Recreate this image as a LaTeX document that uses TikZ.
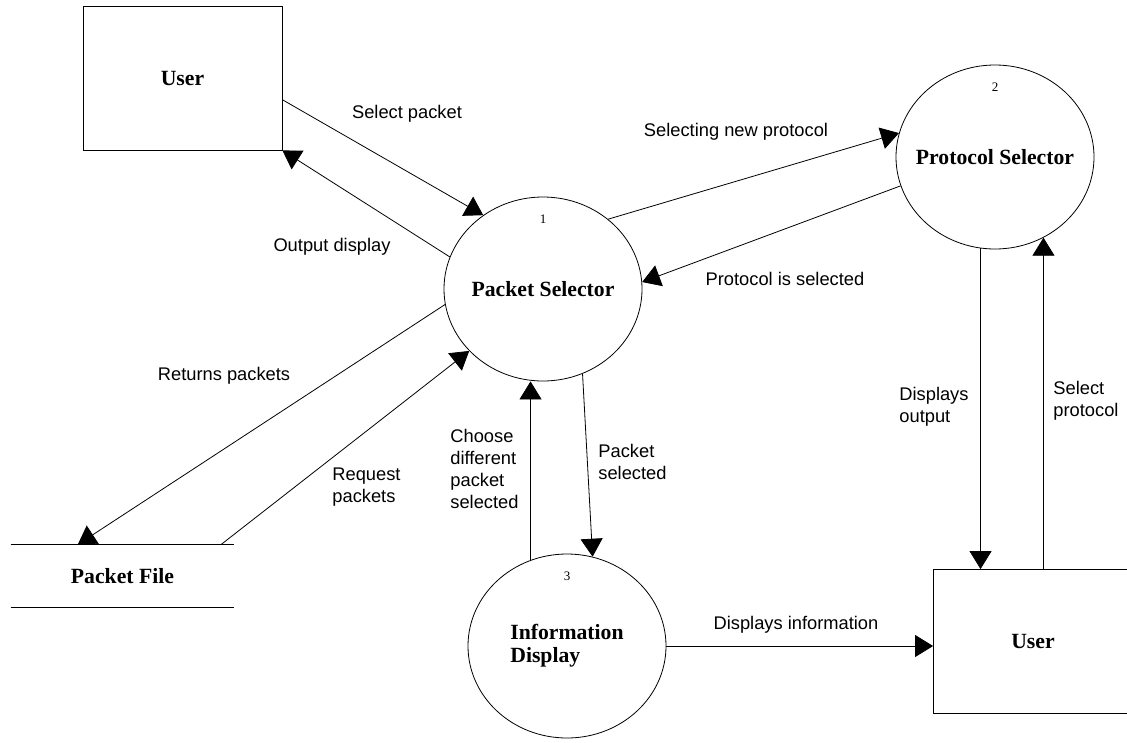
\documentclass[tikz,border=0pt]{standalone}
\usepackage{fontspec}
\setmainfont{Liberation Serif}
\newfontfamily\lblfont{Liberation Sans}
\usetikzlibrary{shapes.geometric,arrows.meta,calc}

\tikzset{
  proc/.style={draw, ellipse, minimum width=198pt, minimum height=184pt, inner sep=0pt,
    font=\bfseries\fontsize{21.7}{23}\selectfont},
  ent/.style={draw, rectangle, minimum width=199pt, minimum height=144pt, inner sep=0pt,
    font=\bfseries\fontsize{21.7}{23}\selectfont},
  store/.style={rectangle, minimum width=223pt, minimum height=62pt, inner sep=0pt,
    font=\bfseries\fontsize{21.7}{23}\selectfont},
  num/.style={inner sep=0pt, font=\fontsize{13}{15}\selectfont},
  lbl/.style={inner sep=0pt, align=left, font=\lblfont\fontsize{18.3}{22}\selectfont},
  flow/.style={-{Triangle[length=18pt,width=22pt]}},
}

\begin{document}
\begin{tikzpicture}[x=1pt, y=-1pt, line width=0.8pt]
\useasboundingbox (0,0) rectangle (1127,742);

% entities and processes
\node[ent] (user) at (182.5, 78) {User};
\node[ent] (user2) at (1033, 641.5) {User};
\node[proc] (pktsel) at (543, 289) {\makebox[0pt]{Packet Selector}};
\node[proc] (protsel) at (995, 157) {\makebox[0pt]{Protocol Selector}};
\node[proc] (infodisp) at (567, 646) {\makebox[0pt]{\begin{tabular}{@{}l@{}}Information\\Display\end{tabular}}};
\node[store] (pktfile) at (122.5, 576) {Packet File};
\draw (pktfile.north west) -- (pktfile.north east);
\draw (pktfile.south west) -- (pktfile.south east);

% process numbers
\node[num] (n1) at ([yshift=70pt]pktsel.center) {1};
\node[num] (n2) at ([yshift=70pt]protsel.center) {2};
\node[num] (n3) at ([yshift=70pt]infodisp.center) {3};

% data flows
\draw[flow] ($(user.south east)!0.35!(user.north east)$) -- (pktsel.129);
\draw[flow] (pktsel.161) -- (user.south east);
\draw[flow] (pktsel.47) -- (protsel.166);
\draw[flow] (protsel.197) -- (pktsel.4);
\draw[flow] (pktsel.189) -- ($(pktfile.north west)!0.3!(pktfile.north east)$);
\draw[flow] ($(pktfile.north west)!0.94!(pktfile.north east)$) -- (pktsel.220);
\draw[flow] (infodisp.113) -- (infodisp.113 |- pktsel.south);
\draw[flow] (pktsel.295) -- (infodisp.74);
\draw[flow] (infodisp.east) -- (infodisp.east -| user2.west);
\draw[flow] (protsel.261) -- (protsel.261 |- user2.north);
\draw[flow] (protsel.301 |- user2.north) -- (protsel.301);

% flow labels
\node[lbl] (l_selpkt) at (407, 114) {Select packet};
\node[lbl] (l_outdisp) at (332, 247) {Output display};
\node[lbl] (l_selnew) at (736, 132) {Selecting new protocol};
\node[lbl] (l_protis) at (785, 279) {Protocol is selected};
\node[lbl] (l_retpkts) at (224, 376) {Returns packets};
\node[lbl, anchor=west] (l_reqpkts) at (332, 487) {Request\\packets};
\node[lbl, anchor=west] (l_choose) at (450, 469) {Choose\\different\\packet\\selected};
\node[lbl, anchor=west] (l_pktsel) at (598, 462) {Packet\\selected};
\node[lbl] (l_dispinfo) at (796, 625) {Displays information};
\node[lbl, anchor=west] (l_dispout) at (899, 407) {Displays\\output};
\node[lbl, anchor=west] (l_selprot) at (1053, 401) {Select\\protocol};
\end{tikzpicture}
\end{document}
